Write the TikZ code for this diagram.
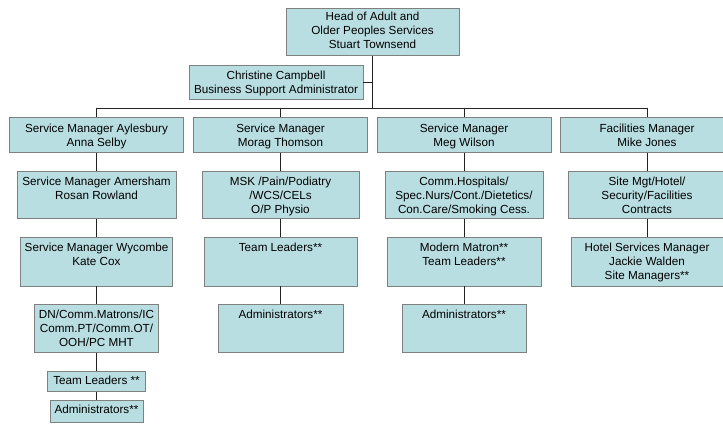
\documentclass[tikz,border=0pt]{standalone}
\usepackage{fontspec}
\setmainfont{Liberation Sans}
\definecolor{boxfill}{RGB}{185,222,226}
\definecolor{boxline}{RGB}{128,128,128}
\definecolor{linkline}{RGB}{35,35,35}
\tikzset{
  box/.style 2 args={draw=boxline, fill=boxfill, line width=0.9pt,
    minimum width=#1, minimum height=#2, anchor=north, inner sep=0pt},
  boxtext/.style={anchor=north, align=center, inner sep=0pt, yshift=-5.8pt,
    font=\fontsize{11.7}{14}\selectfont},
  link/.style={draw=linkline, line width=0.9pt}
}

\begin{document}
\begin{tikzpicture}[x=1pt,y=-1pt]
\useasboundingbox (0,0) rectangle (723,433) ;
\clip (0,0) rectangle (723,433) ;
% top
\node[box={173pt}{47pt}, label={[boxtext,yshift=1.8pt]north:{Head of Adult and\\Older Peoples Services\\Stuart Townsend}}] (head) at (372.5,8) {} ;
\node[box={174pt}{34pt}, label={[boxtext]north:{Christine Campbell\\Business Support Administrator}}] (cc) at (276,65) {} ;
% managers
\node[box={174pt}{35pt}, label={[boxtext,yshift=-1pt]north:{Service Manager Aylesbury\\Anna Selby}}] (sma) at (96.5,117) {} ;
\node[box={174pt}{35pt}, label={[boxtext,yshift=-1pt]north:{Service Manager\\Morag Thomson}}] (smm) at (280.5,117) {} ;
\node[box={174pt}{35pt}, label={[boxtext,yshift=-1pt]north:{Service Manager\\Meg Wilson}}] (smw) at (464,117) {} ;
\node[box={174pt}{35pt}, label={[boxtext,yshift=-1pt]north:{Facilities Manager\\Mike Jones}}] (fm) at (647,117) {} ;
% second row
\node[box={159pt}{46.5pt}, label={[boxtext]north:{Service Manager Amersham\\Rosan Rowland}}] (ama) at (96.5,171.5) {} ;
\node[box={157pt}{46.5pt}, label={[boxtext]north:{MSK /Pain/Podiatry\\/WCS/CELs\\O/P Physio}}] (msk) at (280.5,171.5) {} ;
\node[box={158pt}{46.5pt}, label={[boxtext]north:{Comm.Hospitals/\\Spec.Nurs/Cont./Dietetics/\\Con.Care/Smoking Cess.}}] (comm) at (464,171.5) {} ;
\node[box={158pt}{46.5pt}, label={[boxtext]north:{Site Mgt/Hotel/\\Security/Facilities\\Contracts}}] (site) at (647,171.5) {} ;
% third row
\node[box={152pt}{48.5pt}, label={[boxtext]north:{Service Manager Wycombe\\Kate Cox}}] (wyc) at (96.5,237) {} ;
\node[box={153pt}{48.5pt}, label={[boxtext]north:{Team Leaders**}}] (tlm) at (280.5,237) {} ;
\node[box={154pt}{48.5pt}, label={[boxtext]north:{Modern Matron**\\Team Leaders**}}] (mm) at (464,237) {} ;
\node[box={152pt}{48.5pt}, label={[boxtext]north:{Hotel Services Manager\\Jackie Walden\\Site Managers**}}] (hsm) at (647,237) {} ;
% fourth row
\node[box={124pt}{48pt}, label={[boxtext]north:{DN/Comm.Matrons/IC\\Comm.PT/Comm.OT/\\OOH/PC MHT}}] (dn) at (96.5,304) {} ;
\node[box={125pt}{48pt}, label={[boxtext]north:{Administrators**}}] (admm) at (280.5,304) {} ;
\node[box={124pt}{48pt}, label={[boxtext]north:{Administrators**}}] (adms) at (464,304) {} ;
% Wycombe teams
\node[box={98pt}{20pt}, label={[boxtext,yshift=0.5pt]north:{Team Leaders **}}] (tlw) at (96.5,371) {} ;
\node[box={93pt}{22pt}, label={[boxtext,yshift=0.5pt]north:{Administrators**}}] (admw) at (96.5,400) {} ;
% connectors
\coordinate (hub) at (372.5,108) ;
\draw[link] (head.south) -- (hub) ;
\draw[link] (cc.east) -- (cc.east -| hub) ;
\draw[link] (sma.north |- hub) -- (fm.north |- hub) ;
\foreach \n in {sma,smm,smw,fm}
  \draw[link] (\n.north |- hub) -- (\n.north) ;
\foreach \a/\b in {sma/ama,ama/wyc,wyc/dn,dn/tlw,tlw/admw,smm/msk,msk/tlm,tlm/admm,smw/comm,comm/mm,mm/adms,fm/site,site/hsm}
  \draw[link] (\a.south) -- (\b.north) ;
\end{tikzpicture}
\end{document}
